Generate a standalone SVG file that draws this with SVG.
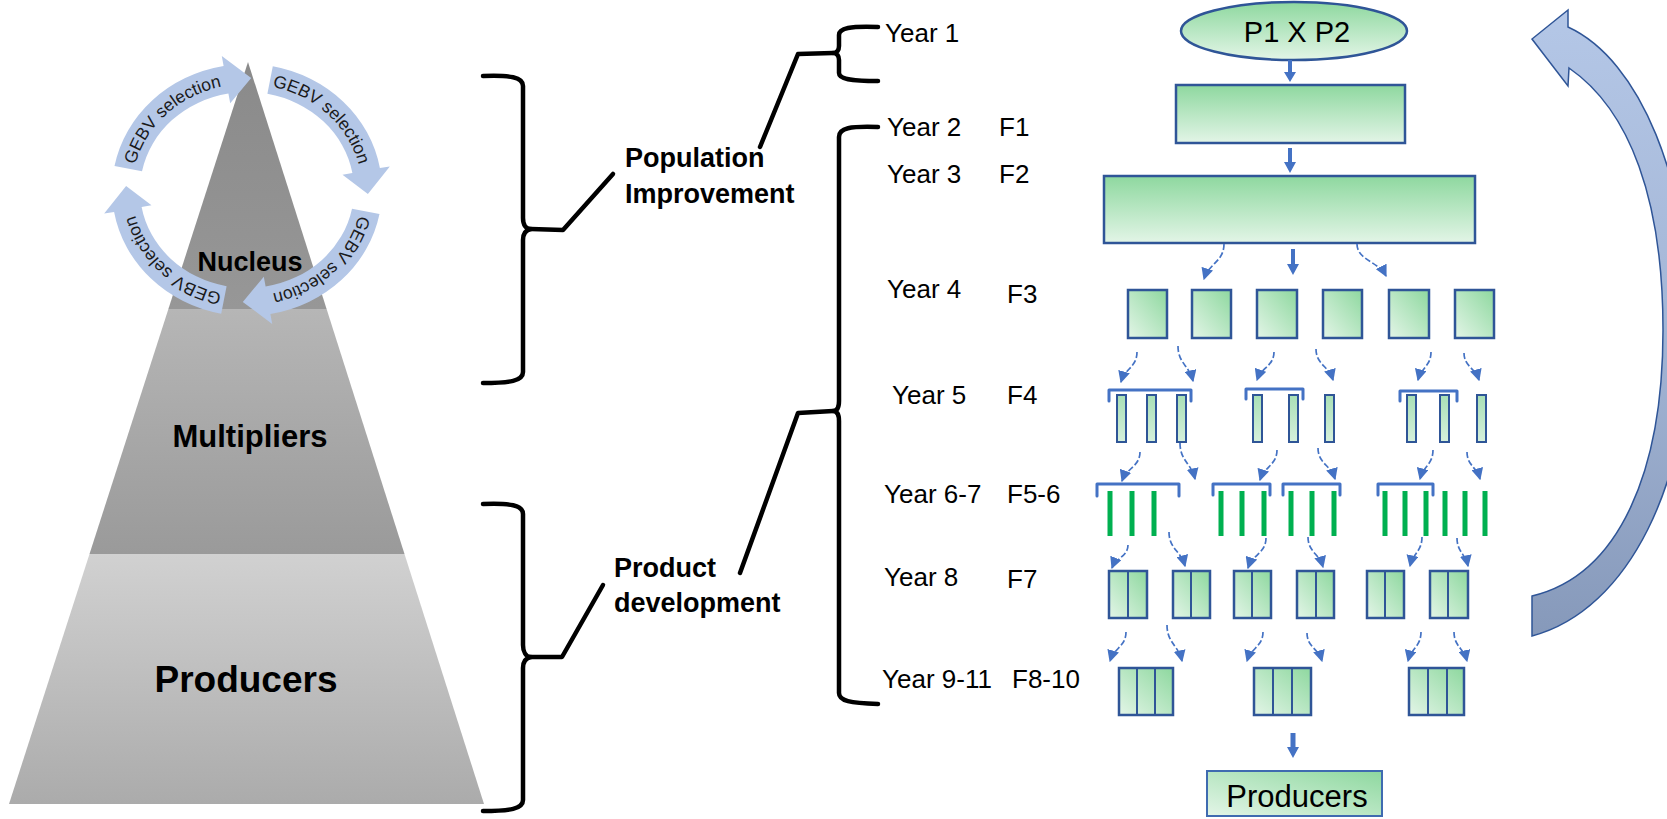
<svg xmlns="http://www.w3.org/2000/svg" width="1667" height="819" viewBox="0 0 1667 819">
<defs>
<linearGradient id="gNuc" x1="0" y1="0" x2="0" y2="1"><stop offset="0" stop-color="#8a8a8a"/><stop offset="1" stop-color="#979797"/></linearGradient>
<linearGradient id="gMul" x1="0" y1="0" x2="0" y2="1"><stop offset="0" stop-color="#b6b6b6"/><stop offset="1" stop-color="#9a9a9a"/></linearGradient>
<linearGradient id="gPro" x1="0" y1="0" x2="0" y2="1"><stop offset="0" stop-color="#d1d1d1"/><stop offset="1" stop-color="#ababab"/></linearGradient>
<linearGradient id="gV" x1="0" y1="0" x2="0" y2="1"><stop offset="0" stop-color="#8ed89f"/><stop offset="1" stop-color="#e3f5e7"/></linearGradient>
<linearGradient id="gD" x1="1" y1="0" x2="0" y2="1"><stop offset="0" stop-color="#8ed89f"/><stop offset="1" stop-color="#e3f5e7"/></linearGradient>
<linearGradient id="gBar" x1="0" y1="0" x2="0" y2="1"><stop offset="0" stop-color="#a9e0b6"/><stop offset="1" stop-color="#d6f0dc"/></linearGradient>
<linearGradient id="gBig" x1="0" y1="0" x2="0" y2="1"><stop offset="0" stop-color="#b4c7e7"/><stop offset="0.5" stop-color="#a4b6d6"/><stop offset="1" stop-color="#8699ba"/></linearGradient>
<marker id="ah" viewBox="0 0 10 10" refX="9" refY="5" markerWidth="12" markerHeight="12" markerUnits="userSpaceOnUse" orient="auto"><path d="M0,0 L10,5 L0,10 z" fill="#4472c4"/></marker>
<path id="tp1" d="M132,190 A115,106 0 0 1 247,84"/>
<path id="tp2" d="M247,84 A115,106 0 0 1 362,190"/>
<path id="tp3" d="M362,190 A115,106 0 0 1 247,296"/>
<path id="tp4" d="M247,296 A115,106 0 0 1 132,190"/>
<style>
.lbl{font-family:"Liberation Sans",Arial,sans-serif;font-size:26px;fill:#000}
.bl{font-family:"Liberation Sans",Arial,sans-serif;font-weight:bold;fill:#000}
.brk{fill:none;stroke:#000;stroke-width:4.5;stroke-linejoin:round;stroke-linecap:round}
.box{stroke:#2f5597;stroke-width:2.5}
.dv{stroke:#2f5597;stroke-width:2}
.cv{fill:none;stroke:#4472c4;stroke-width:1.7;stroke-dasharray:6 2.5;marker-end:url(#ah)}
.tk{fill:#4472c4}
.bb{fill:none;stroke:#4472c4;stroke-width:3;stroke-linecap:round;stroke-linejoin:round}
.gb{fill:#00b050}
.ring{fill:#b4c7e7}
.rt{font-family:"Liberation Sans",Arial,sans-serif;font-size:17.5px;fill:#1a1a1a}
</style>
</defs>
<rect width="1667" height="819" fill="#fff"/>

<g id="pyramid">
<polygon points="248,62 168.4,309 326.6,309" fill="url(#gNuc)"/>
<polygon points="168.4,309 326.6,309 404.5,554 89.5,554" fill="url(#gMul)"/>
<polygon points="89.5,554 404.5,554 484,804 9,804" fill="url(#gPro)"/>
<text class="bl" x="250" y="447" font-size="31" text-anchor="middle">Multipliers</text>
<text class="bl" x="246" y="692" font-size="37" text-anchor="middle">Producers</text>
</g>

<g id="gebv-cycle">
<path class="ring" d="M114.5,166 A135,126 0 0 1 223.6,65.9 L221.8,56.1 L251.2,78.1 L230.2,103.3 L228.4,93.5 A107,98 0 0 0 142,171.3 Z"/>
<path class="ring" d="M272.8,66.3 A135,126 0 0 1 379.9,168.1 L389.8,166.4 L367.9,193.9 L342.5,174.7 L352.4,173 A107,98 0 0 0 267.4,93.8 Z"/>
<path class="ring" d="M379.5,214 A135,126 0 0 1 270.4,314.1 L272.2,323.9 L242.8,301.9 L263.8,276.7 L265.6,286.5 A107,98 0 0 0 352,208.7 Z"/>
<path class="ring" d="M221.2,313.7 A135,126 0 0 1 114.1,211.9 L104.2,213.6 L126.1,186.1 L151.5,205.3 L141.6,207 A107,98 0 0 0 226.6,286.2 Z"/>
<text class="rt"><textPath href="#tp1" startOffset="50%" text-anchor="middle">GEBV selection</textPath></text>
<text class="rt"><textPath href="#tp2" startOffset="50%" text-anchor="middle">GEBV selection</textPath></text>
<text class="rt"><textPath href="#tp3" startOffset="50%" text-anchor="middle">GEBV selection</textPath></text>
<text class="rt"><textPath href="#tp4" startOffset="50%" text-anchor="middle">GEBV selection</textPath></text>
<text class="bl" x="250" y="271" font-size="27" text-anchor="middle">Nucleus</text>
</g>

<g id="brackets">
<path class="brk" d="M483,76 C510,75 523,77 523,86 L523,218 C523,225 526,229 531,229 C526,230 523,234 523,240 L523,372 C523,381 510,383 483,383"/>
<path class="brk" d="M531,229 L563,230 L613,174"/>
<path class="brk" d="M483,504 C510,503 523,505 523,514 L523,645 C523,652 526,657 531,657 C526,658 523,662 523,668 L523,800 C523,809 510,811 483,811"/>
<path class="brk" d="M531,657 L562,657 L603,585"/>
<path class="brk" d="M878,27 C850,26 839,28 839,35 L839,46 C839,50 837,53 833,53 C837,53 839,56 839,60 L839,73 C839,79 850,81 878,81"/>
<path class="brk" d="M833,53 L798,54 L760,147"/>
<path class="brk" d="M878,127 C850,126 839,128 839,137 L839,401 C839,407 837,411 833,411 C837,411 839,415 839,421 L839,693 C839,701 850,703 878,704"/>
<path class="brk" d="M833,411 L798,413 L740,573"/>
</g>

<g id="section-labels">
<text class="bl" x="625" y="167" font-size="27">Population</text>
<text class="bl" x="625" y="203" font-size="27">Improvement</text>
<text class="bl" x="614" y="577" font-size="27">Product</text>
<text class="bl" x="614" y="612" font-size="27">development</text>
</g>

<g id="year-labels">
<text class="lbl" x="885" y="42">Year 1</text>
<text class="lbl" x="887" y="136">Year 2</text>
<text class="lbl" x="999" y="136">F1</text>
<text class="lbl" x="887" y="183">Year 3</text>
<text class="lbl" x="999" y="183">F2</text>
<text class="lbl" x="887" y="298">Year 4</text>
<text class="lbl" x="1007" y="303">F3</text>
<text class="lbl" x="892" y="404">Year 5</text>
<text class="lbl" x="1007" y="404">F4</text>
<text class="lbl" x="884" y="503">Year 6-7</text>
<text class="lbl" x="1007" y="503">F5-6</text>
<text class="lbl" x="884" y="586">Year 8</text>
<text class="lbl" x="1007" y="588">F7</text>
<text class="lbl" x="882" y="688">Year 9-11</text>
<text class="lbl" x="1012" y="688">F8-10</text>
</g>

<g id="node-cross">
<ellipse cx="1294" cy="31" rx="113" ry="29" fill="url(#gV)" class="box"/>
<text x="1297" y="42" font-family="Liberation Sans, Arial, sans-serif" font-size="29" text-anchor="middle">P1 X P2</text>
</g>
<g id="node-f1"><rect x="1176" y="85" width="229" height="58" fill="url(#gV)" class="box"/></g>
<g id="node-f2"><rect x="1104" y="176" width="371" height="67" fill="url(#gV)" class="box"/></g>

<g id="node-f3">
<rect x="1128" y="290" width="39" height="48" fill="url(#gD)" class="box"/>
<rect x="1192" y="290" width="39" height="48" fill="url(#gD)" class="box"/>
<rect x="1257" y="290" width="40" height="48" fill="url(#gD)" class="box"/>
<rect x="1323" y="290" width="39" height="48" fill="url(#gD)" class="box"/>
<rect x="1389" y="290" width="40" height="48" fill="url(#gD)" class="box"/>
<rect x="1455" y="290" width="39" height="48" fill="url(#gD)" class="box"/>
</g>

<g id="node-f4">
<path class="bb" d="M1109,401 V390 H1191 V401"/>
<path class="bb" d="M1246,399 V389 H1303 V399"/>
<path class="bb" d="M1400,401 V391 H1457 V401"/>
<g fill="url(#gBar)" stroke="#2f5597" stroke-width="2">
<rect x="1117" y="395" width="9" height="47"/>
<rect x="1147" y="395" width="9" height="47"/>
<rect x="1177" y="395" width="9" height="47"/>
<rect x="1253" y="395" width="9" height="47"/>
<rect x="1289" y="395" width="9" height="47"/>
<rect x="1325" y="395" width="9" height="47"/>
<rect x="1407" y="395" width="9" height="47"/>
<rect x="1440" y="395" width="9" height="47"/>
<rect x="1477" y="395" width="9" height="47"/>
</g>
</g>

<g id="node-f5-6">
<path class="bb" d="M1097,496 V484 H1179 V496"/>
<path class="bb" d="M1213,495 V484 H1270 V495"/>
<path class="bb" d="M1283,495 V484 H1340 V495"/>
<path class="bb" d="M1378,495 V484 H1433 V495"/>
<g class="gb">
<rect x="1107.5" y="491" width="5" height="45"/>
<rect x="1129.5" y="491" width="5" height="45"/>
<rect x="1151.5" y="491" width="5" height="45"/>
<rect x="1218.5" y="491" width="5" height="45"/>
<rect x="1239.5" y="491" width="5" height="45"/>
<rect x="1261.5" y="491" width="5" height="45"/>
<rect x="1288.5" y="491" width="5" height="45"/>
<rect x="1309.5" y="491" width="5" height="45"/>
<rect x="1331.5" y="491" width="5" height="45"/>
<rect x="1382.5" y="491" width="5" height="45"/>
<rect x="1402.5" y="491" width="5" height="45"/>
<rect x="1423.5" y="491" width="5" height="45"/>
<rect x="1442.5" y="491" width="5" height="45"/>
<rect x="1462.5" y="491" width="5" height="45"/>
<rect x="1482.5" y="491" width="5" height="45"/>
</g>
</g>

<g id="node-f7">
<rect x="1109" y="571" width="38" height="47" fill="url(#gD)" class="box"/><line class="dv" x1="1128" y1="571" x2="1128" y2="618"/>
<rect x="1173" y="571" width="37" height="47" fill="url(#gD)" class="box"/><line class="dv" x1="1191" y1="571" x2="1191" y2="618"/>
<rect x="1234" y="571" width="37" height="47" fill="url(#gD)" class="box"/><line class="dv" x1="1252" y1="571" x2="1252" y2="618"/>
<rect x="1297" y="571" width="37" height="47" fill="url(#gD)" class="box"/><line class="dv" x1="1316" y1="571" x2="1316" y2="618"/>
<rect x="1367" y="571" width="37" height="47" fill="url(#gD)" class="box"/><line class="dv" x1="1385" y1="571" x2="1385" y2="618"/>
<rect x="1430" y="571" width="38" height="47" fill="url(#gD)" class="box"/><line class="dv" x1="1448" y1="571" x2="1448" y2="618"/>
</g>

<g id="node-f8-10">
<rect x="1119" y="668" width="54" height="47" fill="url(#gD)" class="box"/><line class="dv" x1="1137" y1="668" x2="1137" y2="715"/><line class="dv" x1="1155" y1="668" x2="1155" y2="715"/>
<rect x="1254" y="668" width="57" height="47" fill="url(#gD)" class="box"/><line class="dv" x1="1273" y1="668" x2="1273" y2="715"/><line class="dv" x1="1292" y1="668" x2="1292" y2="715" stroke-width="3"/>
<rect x="1409" y="668" width="55" height="47" fill="url(#gD)" class="box"/><line class="dv" x1="1428" y1="668" x2="1428" y2="715"/><line class="dv" x1="1447" y1="668" x2="1447" y2="715"/>
</g>

<g id="node-producers">
<rect x="1207" y="771" width="175" height="45" fill="url(#gD)" stroke="#3f6bb0" stroke-width="2"/>
<text x="1297" y="807" font-family="Liberation Sans, Arial, sans-serif" font-size="31" text-anchor="middle">Producers</text>
</g>

<g id="cycle-arrow">
<path d="M1568,27 C1640,60 1690,180 1690,330 C1690,480 1630,610 1532,636 L1532,596 C1620,575 1663,470 1663,330 C1663,200 1630,110 1569,68 L1568,86 L1532,39 L1568,10 Z" fill="url(#gBig)" stroke="#2f5597" stroke-width="1.5" stroke-linejoin="miter"/>
</g>

<g id="connectors">
<path class="tk" d="M1288,60 H1292 V72 H1296 L1290,82 L1284,72 H1288 Z"/>
<path class="tk" d="M1288,148 H1292 V162 H1296 L1290,173 L1284,162 H1288 Z"/>
<path class="tk" d="M1291,249 H1295 V264 H1299 L1293,275 L1287,264 H1291 Z"/>
<path class="tk" d="M1290.5,733 H1295.5 V747 H1299 L1293,758 L1287,747 H1290.5 Z"/>
<path class="cv" d="M1224,244 C1224,261.5 1209,263.3 1204,279"/>
<path class="cv" d="M1357,244 C1357,260 1378.8,261.6 1386,276"/>
<path class="cv" d="M1137,352 C1137,367 1125,368.5 1121,382"/>
<path class="cv" d="M1178,346 C1178,363.5 1189.3,365.3 1193,381"/>
<path class="cv" d="M1274,352 C1274,366 1261.3,367.4 1257,380"/>
<path class="cv" d="M1316,349 C1316,364.5 1328.8,366 1333,380"/>
<path class="cv" d="M1431,352 C1431,366 1421.3,367.4 1418,380"/>
<path class="cv" d="M1464,353 C1464,366.5 1475.3,367.9 1479,380"/>
<path class="cv" d="M1140,452 C1140,466.5 1126.5,468 1122,481"/>
<path class="cv" d="M1180,443 C1180,461 1191.3,462.8 1195,479"/>
<path class="cv" d="M1277,450 C1277,465 1264.3,466.5 1260,480"/>
<path class="cv" d="M1318,448 C1318,463.5 1330.8,465 1335,479"/>
<path class="cv" d="M1433,450 C1433,464.5 1423.3,466 1420,479"/>
<path class="cv" d="M1467,452 C1467,465.5 1476.8,466.9 1480,479"/>
<path class="cv" d="M1128,545 C1128,556.5 1116,557.7 1112,568"/>
<path class="cv" d="M1169,532 C1169,549 1181,550.7 1185,566"/>
<path class="cv" d="M1266,538 C1266,553 1252.5,554.5 1248,568"/>
<path class="cv" d="M1308,537 C1308,552 1319.3,553.5 1323,567"/>
<path class="cv" d="M1422,537 C1422,551.5 1413,553 1410,566"/>
<path class="cv" d="M1457,538 C1457,552 1465.3,553.4 1468,566"/>
<path class="cv" d="M1126,632 C1126,646.5 1114,648 1110,661"/>
<path class="cv" d="M1167,625 C1167,643 1178.3,644.8 1182,661"/>
<path class="cv" d="M1263,632 C1263,646.5 1251,648 1247,661"/>
<path class="cv" d="M1307,633 C1307,647 1318.3,648.4 1322,661"/>
<path class="cv" d="M1421,632 C1421,646.5 1411.3,648 1408,661"/>
<path class="cv" d="M1454,632 C1454,646.5 1463.8,648 1467,661"/>
</g>
</svg>
